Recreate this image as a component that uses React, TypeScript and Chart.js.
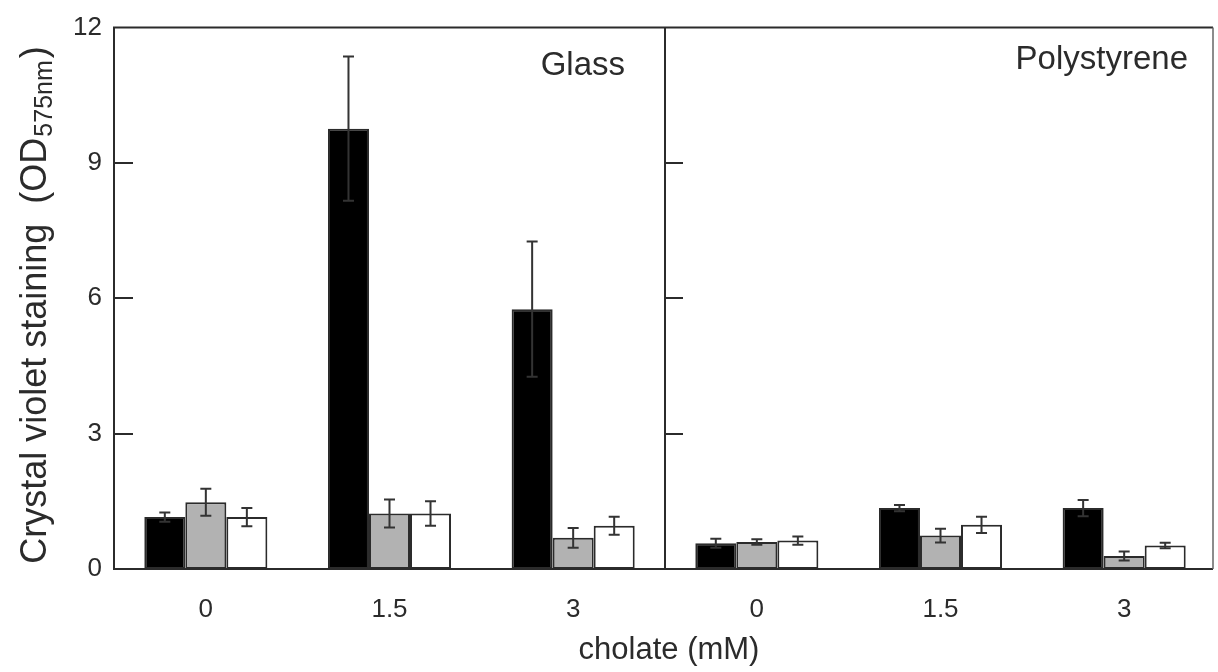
import React, { useEffect, useRef } from "react";
import { Chart, registerables } from "chart.js";

Chart.register(...registerables);

// ---- data ----
const categories = ["0", "1.5", "3", "0", "1.5", "3"];
const panelLabels = ["Glass", "Polystyrene"];
const blackValues = [1.15, 9.76, 5.76, 0.57, 1.35, 1.35];
const blackErrors = [0.1, 1.6, 1.5, 0.1, 0.07, 0.18];
const grayValues = [1.48, 1.23, 0.69, 0.6, 0.74, 0.29];
const grayErrors = [0.3, 0.31, 0.22, 0.06, 0.15, 0.1];
const whiteValues = [1.15, 1.23, 0.96, 0.63, 0.98, 0.52];
const whiteErrors = [0.2, 0.27, 0.2, 0.09, 0.18, 0.06];
const yTicks = [0, 3, 6, 9, 12];
const xTitle = "cholate (mM)";
const yTitleMain = "Crystal violet staining  (OD";
const yTitleSub = "575nm";
const yTitleEnd = ")";

const FONT = "'Liberation Sans', Arial, Helvetica, sans-serif";
const INK = "#2b2b2b";

const framePlugin = {
  id: "frame",
  afterDatasetsDraw(chart: any) {
    const { ctx, chartArea } = chart;
    const { left, right, top, bottom } = chartArea;
    const x = chart.scales.x;
    const y = chart.scales.y;
    const divX = (x.getPixelForValue(2) + x.getPixelForValue(3)) / 2;
    const rightEdge = right - 3;
    ctx.save();
    ctx.strokeStyle = INK;
    ctx.lineWidth = 2;
    ctx.lineCap = "butt";
    ctx.beginPath();
    ctx.moveTo(left, top);
    ctx.lineTo(rightEdge, top);
    ctx.moveTo(left, bottom);
    ctx.lineTo(rightEdge, bottom);
    ctx.moveTo(left, top - 1);
    ctx.lineTo(left, bottom + 1);
    ctx.moveTo(divX, top - 1);
    ctx.lineTo(divX, bottom + 1);
    for (const v of yTicks) {
      if (v === 0 || v === 12) continue;
      const py = Math.round(y.getPixelForValue(v));
      ctx.moveTo(left, py);
      ctx.lineTo(left + 19, py);
      ctx.moveTo(divX, py);
      ctx.lineTo(divX + 18, py);
    }
    ctx.stroke();
    ctx.strokeStyle = "#666";
    ctx.lineWidth = 1.5;
    ctx.beginPath();
    ctx.moveTo(rightEdge, top);
    ctx.lineTo(rightEdge, bottom);
    ctx.stroke();
    ctx.restore();
  },
};

const errorBarPlugin = {
  id: "errorBars",
  afterDatasetsDraw(chart: any) {
    const { ctx } = chart;
    const y = chart.scales.y;
    ctx.save();
    ctx.strokeStyle = "#333";
    ctx.lineWidth = 2;
    chart.data.datasets.forEach((ds: any, di: number) => {
      const meta = chart.getDatasetMeta(di);
      meta.data.forEach((bar: any, i: number) => {
        const v = ds.data[i];
        const e = ds.errors[i];
        const x = bar.x;
        const yTop = y.getPixelForValue(v + e);
        const yBot = y.getPixelForValue(v - e);
        ctx.beginPath();
        ctx.moveTo(x, yTop);
        ctx.lineTo(x, yBot);
        ctx.moveTo(x - 5.5, yTop);
        ctx.lineTo(x + 5.5, yTop);
        ctx.moveTo(x - 5.5, yBot);
        ctx.lineTo(x + 5.5, yBot);
        ctx.stroke();
      });
    });
    ctx.restore();
  },
};

const textPlugin = {
  id: "texts",
  afterDraw(chart: any) {
    const { ctx, chartArea } = chart;
    const x = chart.scales.x;
    const divX = (x.getPixelForValue(2) + x.getPixelForValue(3)) / 2;
    ctx.save();
    ctx.fillStyle = INK;
    ctx.font = `33px ${FONT}`;
    ctx.textAlign = "right";
    ctx.textBaseline = "alphabetic";
    ctx.fillText(panelLabels[0], divX - 40, 75);
    ctx.fillText(panelLabels[1], chartArea.right - 28, 69);

    // x title
    ctx.font = `31px ${FONT}`;
    ctx.textAlign = "center";
    ctx.fillText(xTitle, (chartArea.left + chartArea.right) / 2 + 4, 659);

    // y title rotated with subscript
    ctx.translate(46, 305);
    ctx.rotate(-Math.PI / 2);
    const mainFont = `36px ${FONT}`;
    const subFont = `25px ${FONT}`;
    ctx.font = mainFont;
    const w1 = ctx.measureText(yTitleMain).width;
    const w3 = ctx.measureText(yTitleEnd).width;
    ctx.font = subFont;
    const w2 = ctx.measureText(yTitleSub).width;
    const total = w1 + w2 + w3 + 3;
    let cx = -total / 2;
    ctx.textAlign = "left";
    ctx.font = mainFont;
    ctx.fillText(yTitleMain, cx, 0);
    cx += w1 + 1;
    ctx.font = subFont;
    ctx.fillText(yTitleSub, cx, 6);
    cx += w2 + 2;
    ctx.font = mainFont;
    ctx.fillText(yTitleEnd, cx, 0);
    ctx.restore();
  },
};

export default function App() {
  const canvasRef = useRef<HTMLCanvasElement | null>(null);

  useEffect(() => {
    if (!canvasRef.current) return;
    const common = {
      borderColor: INK,
      borderWidth: 2,
      borderSkipped: false,
      barPercentage: 1.0,
      categoryPercentage: 0.67,
    };
    const chart = new Chart(canvasRef.current, {
      type: "bar",
      data: {
        labels: categories,
        datasets: [
          { label: "black", data: blackValues, errors: blackErrors, backgroundColor: "#000000", ...common } as any,
          { label: "gray", data: grayValues, errors: grayErrors, backgroundColor: "#b2b2b2", ...common } as any,
          { label: "white", data: whiteValues, errors: whiteErrors, backgroundColor: "#ffffff", ...common } as any,
        ],
      },
      options: {
        animation: false,
        responsive: false,
        devicePixelRatio: 1,
        layout: { padding: { top: 19, right: 2, left: 0, bottom: 0 } },
        plugins: {
          legend: { display: false },
          tooltip: { enabled: false },
        },
        scales: {
          x: {
            type: "category",
            grid: { display: false, drawTicks: false },
            border: { display: false },
            ticks: { font: { family: FONT, size: 26 }, color: INK, padding: 25 },
            afterFit: (s: any) => {
              s.height = 103;
            },
          },
          y: {
            min: 0,
            max: 12,
            afterBuildTicks: (s: any) => {
              s.ticks = yTicks.map((v) => ({ value: v }));
            },
            grid: { display: false, drawTicks: false },
            border: { display: false },
            ticks: { font: { family: FONT, size: 26 }, color: INK, padding: 12 },
            afterFit: (s: any) => {
              s.width = 114;
            },
          },
        },
      },
      plugins: [framePlugin, errorBarPlugin, textPlugin],
    });
    return () => chart.destroy();
  }, []);

  return (
    <div style={{ position: "fixed", left: 0, top: 0, width: 1218, height: 672, background: "#fff" }}>
      <canvas ref={canvasRef} width={1218} height={672} style={{ width: 1218, height: 672, display: "block" }} />
    </div>
  );
}
